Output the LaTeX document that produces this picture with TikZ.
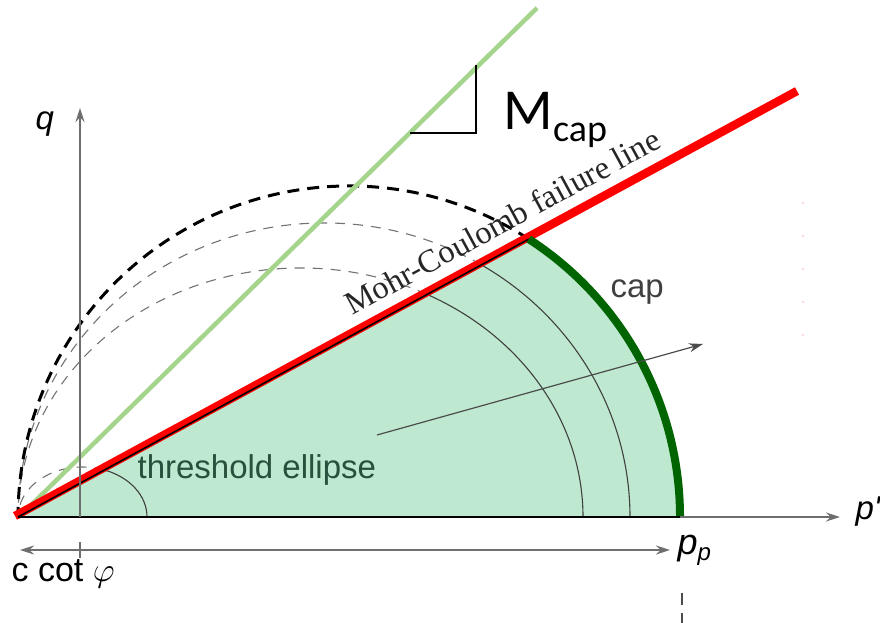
\RequirePackage{fix-cm}
\documentclass[tikz,border=0pt]{standalone}
\usepackage{fontspec}
\setmainfont{Liberation Sans}
\newfontfamily\mcfont{Liberation Serif}
\newfontfamily\capfont{Carlito}
\usetikzlibrary{arrows.meta}
\definecolor{capfill}{RGB}{190,233,208}
\definecolor{capgreen}{RGB}{0,100,0}
\definecolor{mcapgreen}{RGB}{165,213,140}
\definecolor{axisgray}{RGB}{110,110,110}
\definecolor{labelgreen}{RGB}{40,80,60}

\begin{document}
\begin{tikzpicture}[x=1pt,y=1pt,line width=1.2pt,>={Stealth[length=14pt,width=9pt]},
  every node/.style={inner sep=0pt},
  axis/.style={axisgray,line width=1.5pt},
  inner arc/.style={black!75,line width=1.1pt},
  inner dash/.style={black!55,line width=1.1pt,dash pattern=on 10pt off 8pt},
  big label/.style={font=\fontsize{33}{36}\selectfont}]
\useasboundingbox (-18,-106) rectangle (862,517);
% ---------- named points ----------
\coordinate (O) at (0,0);
\coordinate (T) at (510.8,277.9);   % cap meets the failure line
\coordinate (Pp) at (662,0);
% ---------- cap region ----------
\fill[capfill] (O) -- (T) arc[start angle=57.1,end angle=0,radius=331] -- cycle;
% inner yield loci, solid below the line, dashed above
\draw[inner arc] (612,0) arc[start angle=0,end angle=59,x radius=306,y radius=294] coordinate (e2);
\draw[inner dash] (e2) arc[start angle=59,end angle=180,x radius=306,y radius=294];
\draw[inner arc] (565,0) arc[start angle=0,end angle=63.4,x radius=282.5,y radius=249] coordinate (e3);
\draw[inner dash] (e3) arc[start angle=63.4,end angle=180,x radius=282.5,y radius=249];
\draw[inner arc] (129,0) arc[start angle=0,end angle=70.1,x radius=64.5,y radius=50] coordinate (e4);
\draw[inner dash] (e4) arc[start angle=70.1,end angle=180,x radius=64.5,y radius=50];
% continuation of the cap
\draw[line width=3pt,dash pattern=on 12pt off 8pt] (T) arc[start angle=57.1,end angle=180,radius=331];
% ---------- M_cap line ----------
\coordinate (g0) at (1,0);
\coordinate (g1) at (519,509);
\draw[mcapgreen,line width=4.5pt] (g0) -- (g1);
\draw[line width=2pt] (392,384) -- (458,384) -- (458,452);
% ---------- failure line ----------
\coordinate (r0) at (-3,1);
\coordinate (r1) at (779,426);
\draw[red,line width=8.5pt] (r0) -- (r1);
\draw[line width=1.6pt] (O) -- (T);
\draw[capgreen,line width=8pt] (T) arc[start angle=57.1,end angle=0,radius=331];
% ---------- axes ----------
\draw[axis,->] (O) -- (822,0);
\draw[line width=2pt] (O) -- (Pp);
\draw[axis,->] (62,0) -- (62,409);
\draw[axis] (62,-25) -- (62,-41);
\draw[axis,<->] (2,-33) -- (652,-33);
\draw[black!70,line width=1.2pt,->] (359,82) -- (685,173);
\foreach \y in {182,215,248,281,314}
  \fill[red!20] (785,\y) circle (1.2);
\draw[black!70,line width=2pt,dash pattern=on 12pt off 8pt] (664,-76) -- (664,-106);
% ---------- labels ----------
\node[big label,anchor=base west] (qlab) at (17,387) {\textit{q}};
\node[big label,anchor=base west] (plab) at (837,-3) {\textit{p\textquotesingle}};
\node[anchor=base west,font=\fontsize{36}{38}\selectfont] (pplab) at (659,-38)
  {\textit{p}\raisebox{-5pt}{\fontsize{24}{26}\selectfont\textit{p}}};
\node[anchor=base west,font=\fontsize{34}{36}\selectfont] (cotlab) at (-7,-65) {c cot $\varphi$};
\node[anchor=base west,font=\capfont\fontsize{58}{60}\selectfont] (mcap) at (485,387)
  {M\raisebox{-12pt}{\fontsize{38}{40}\selectfont cap}};
\node[anchor=base west,rotate=28.55,text=black!85,font=\mcfont\fontsize{32.5}{34}\selectfont]
  (mclab) at (334,201) {Mohr-Coulomb failure line};
\node[big label,anchor=base west,text=black!75] (caplab) at (592,219) {cap};
\node[big label,anchor=base west,text=labelgreen] (thrlab) at (119,38) {threshold ellipse};
\end{tikzpicture}
\end{document}
